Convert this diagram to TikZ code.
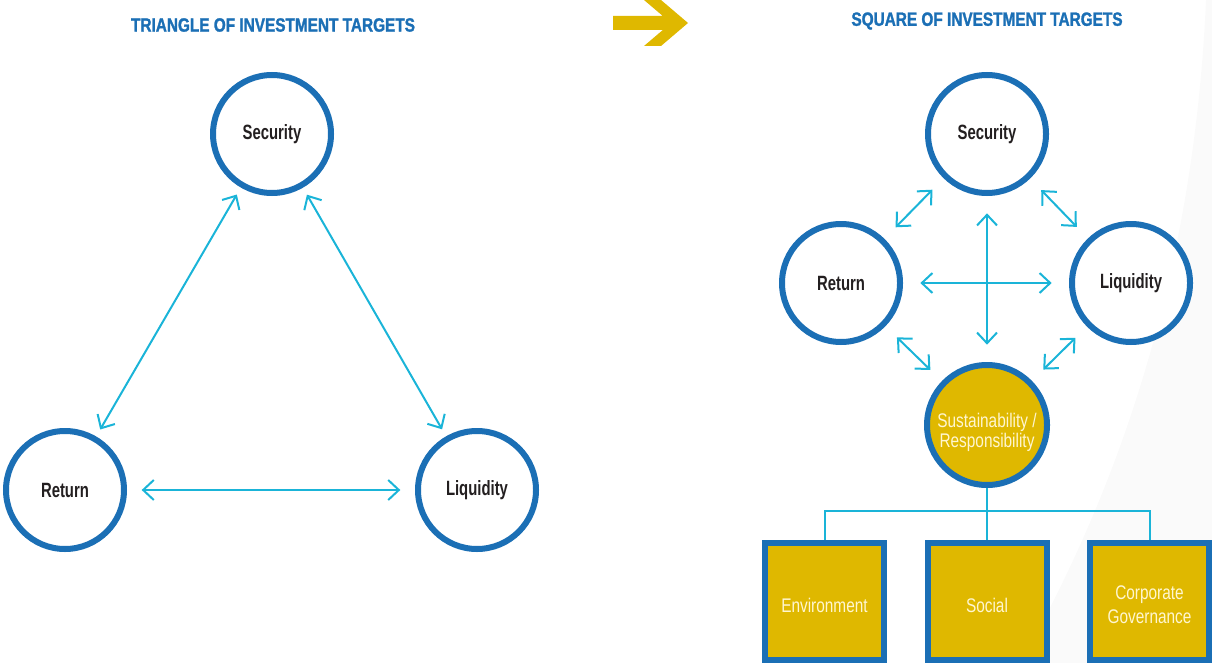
\documentclass[tikz,border=0pt]{standalone}
\usepackage{fontspec}
\setmainfont{Liberation Sans}[FakeStretch=0.78]
\newfontfamily\labelfont{Liberation Sans Bold}[FakeStretch=0.72]
\newfontfamily\titlefont{Liberation Sans Bold}[FakeStretch=0.8,FakeBold=1.4]
\usetikzlibrary{arrows.meta}
\definecolor{cblue}{HTML}{1B6FB5}
\definecolor{ccyan}{HTML}{1AB4D8}
\definecolor{cgold}{HTML}{DFB800}
\definecolor{ctext}{HTML}{231F20}
\definecolor{clight}{HTML}{FFF6D0}
\begin{document}
\begin{tikzpicture}[x=0.75pt,y=-0.75pt,
 target/.style={circle,draw=cblue,line width=4.5pt,minimum size=88.5pt,inner sep=0pt,font=\labelfont\fontsize{15.5}{18}\selectfont,text=ctext,fill=white},
 goal/.style={circle,draw=cblue,line width=4.5pt,minimum size=90pt,inner sep=0pt,fill=cgold},
 pillar/.style={rectangle,draw=cblue,line width=4.5pt,fill=cgold,minimum width=89.25pt,minimum height=87.75pt,inner sep=0pt},
 inner/.style={text=clight,align=center,inner sep=0pt,font=\fontsize{14.8}{#1}\selectfont},
 inner/.default=18pt,
 link/.style={draw=ccyan,line width=1.5pt,{Straight Barb[length=8pt,width=15pt]}-{Straight Barb[length=8pt,width=15pt]},shorten <=#1,shorten >=#1},
 link/.default=11pt,
 bus/.style={draw=ccyan,line width=1.5pt},
 title/.style={font=\titlefont\fontsize{14.4}{16}\selectfont,text=cblue}]
\useasboundingbox (0,0) rectangle (1212,663);
% faint background sweep
\fill[black!2] (1206,0) .. controls (1195,250) and (1130,470) .. (1020,663) -- (1212,663) -- (1212,0) -- cycle;

% titles and arrow
\node[title] (t1) at (273,25) {TRIANGLE OF INVESTMENT TARGETS};
\node[title] (t2) at (987,21) {SQUARE OF INVESTMENT TARGETS};
\fill[cgold] (613,16) -- (662.8,16) -- (644,0) -- (661,0) -- (688,23) -- (661,46) -- (644,46) -- (662.8,30) -- (613,30) -- cycle;

% left triangle
\node[target] (ls) at (272,134) {Security};
\node[target] (lr) at (65,490) {Return};
\node[target] (ll) at (477,490) {Liquidity};
\draw[link=6pt] (ls) -- (lr);
\draw[link=6pt] (ls) -- (ll);
\draw[link=11pt] (lr) -- (ll);

% right square
\node[target] (rs) at (987,134) {Security};
\node[target] (rr) at (841,283) {Return};
\node[target] (rl) at (1131,283) {Liquidity};
\node[goal] (sus) at (987,425) {};
\node[inner=15pt] (sustxt) at (987,432) {Sustainability /\\Responsibility};
\draw[link=12pt] (rr) -- (rs);
\draw[link=12pt] (rs) -- (rl);
\draw[link=12pt] (rr) -- (sus);
\draw[link=12pt] (rl) -- (sus);
\draw[link=13pt] (rr) -- (rl);
\draw[link=13pt] (rs) -- (sus);

% pillars
\node[pillar] (env) at (824.5,601.5) {};
\node[pillar] (soc) at (987,601.5) {};
\node[pillar] (gov) at (1149.5,601.5) {};
\node[inner] (envtxt) at (824.5,605) {Environment};
\node[inner] (soctxt) at (987,605) {Social};
\node[inner] (govtxt) at (1149.5,605) {Corporate\\Governance};
\coordinate (hub) at (987,511);
\draw[bus] (sus.south) -- (soc.north);
\draw[bus] (env.north) -- (env.north |- hub) -- (gov.north |- hub) -- (gov.north);
\end{tikzpicture}
\end{document}
